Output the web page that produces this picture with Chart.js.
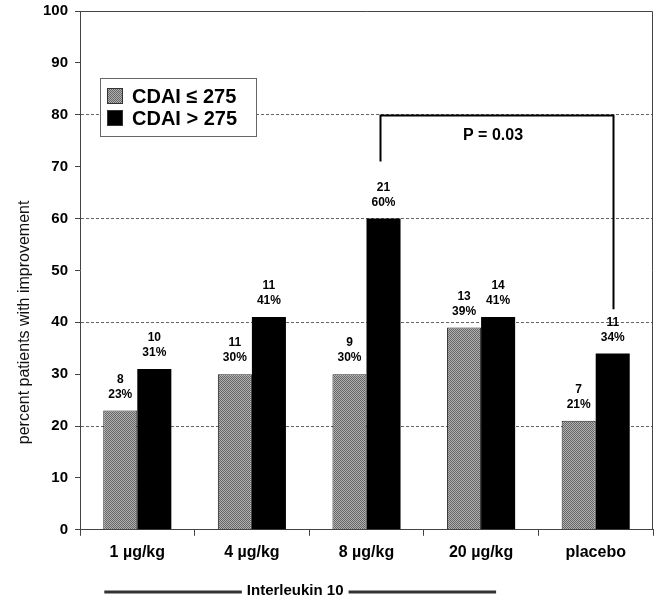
<!DOCTYPE html>
<html>
<head>
<meta charset="utf-8">
<script src="https://cdn.jsdelivr.net/npm/chart.js@4/dist/chart.umd.min.js"></script>
<style>
  html, body { margin: 0; padding: 0; background: #fff; }
  #wrap { width: 660px; height: 600px; }
</style>
</head>
<body>
<div id="wrap"><canvas id="myChart" width="660" height="600"></canvas></div>
<script>
const categories = ['1 µg/kg', '4 µg/kg', '8 µg/kg', '20 µg/kg', 'placebo'];
const lowPct = [23, 30, 30, 39, 21];
const highPct = [31, 41, 60, 41, 34];
const lowN = [8, 11, 9, 13, 7];
const highN = [10, 11, 21, 14, 11];
const seriesNames = ['CDAI \u2264 275', 'CDAI > 275'];
const gridValues = [20, 40, 60, 80];
// bracket between 8 ug/kg (high) and placebo (high)
const bracketFrom = 2;
const bracketTo = 4;
const bracketTop = 80;
const bracketLeftEnd = 71;
const bracketRightEnd = 42.5;
const bracketText = 'P = 0.03';
const groupText = 'Interleukin 10';

const FONT = 'Arial, "Liberation Sans", sans-serif';

function makePattern() {
  const c = document.createElement('canvas');
  c.width = 2; c.height = 2;
  const g = c.getContext('2d');
  g.fillStyle = '#b2b2b2';
  g.fillRect(0, 0, 2, 2);
  g.fillStyle = '#656565';
  g.fillRect(0, 0, 1, 1);
  g.fillRect(1, 1, 1, 1);
  return g.createPattern(c, 'repeat');
}

const overlay = {
  id: 'overlay',
  afterDatasetsDraw(chart) {
    const ctx = chart.ctx;
    const a = chart.chartArea;
    const y = chart.scales.y;
    const x = chart.scales.x;
    ctx.save();

    // frame top/right
    ctx.strokeStyle = '#444';
    ctx.lineWidth = 1;
    ctx.beginPath();
    ctx.moveTo(a.left, a.top + 0.5);
    ctx.lineTo(a.right - 0.5, a.top + 0.5);
    ctx.lineTo(a.right - 0.5, a.bottom);
    ctx.stroke();

    // value labels
    ctx.fillStyle = '#000';
    ctx.font = 'bold 12px ' + FONT;
    ctx.textAlign = 'center';
    ctx.textBaseline = 'middle';
    [[0, lowN, lowPct], [1, highN, highPct]].forEach(([di, ns, ps]) => {
      chart.getDatasetMeta(di).data.forEach((bar, i) => {
        ctx.fillText(String(ns[i]), bar.x, bar.y - 31);
        ctx.fillText(ps[i] + '%', bar.x, bar.y - 16);
      });
    });

    // bracket
    const hb = chart.getDatasetMeta(1).data;
    const x1 = Math.round(hb[bracketFrom].x) - 3.5;
    const x2 = Math.round(hb[bracketTo].x) + 0.5;
    const yt = Math.round(y.getPixelForValue(bracketTop)) + 0.5;
    ctx.strokeStyle = '#000';
    ctx.lineWidth = 2;
    ctx.beginPath();
    ctx.moveTo(x1, y.getPixelForValue(bracketLeftEnd));
    ctx.lineTo(x1, yt);
    ctx.lineTo(x2, yt);
    ctx.lineTo(x2, y.getPixelForValue(bracketRightEnd));
    ctx.stroke();
    ctx.font = 'bold 16px ' + FONT;
    ctx.fillText(bracketText, (x1 + x2) / 2 - 4, yt + 20);

    // legend box
    const lx = a.left + 20, ly = a.top + 67, lw = 156, lh = 58;
    ctx.fillStyle = '#fff';
    ctx.fillRect(lx, ly, lw, lh);
    ctx.strokeStyle = '#666';
    ctx.lineWidth = 1;
    ctx.strokeRect(lx + 0.5, ly + 0.5, lw, lh);
    const fills = [chart.data.datasets[0].backgroundColor, '#000'];
    ctx.font = 'bold 20px ' + FONT;
    ctx.textAlign = 'left';
    seriesNames.forEach((name, i) => {
      const sy = ly + 10 + i * 22;
      ctx.fillStyle = fills[i];
      ctx.fillRect(lx + 7, sy, 16, 16);
      ctx.strokeStyle = '#333';
      ctx.strokeRect(lx + 7.5, sy + 0.5, 15, 15);
      ctx.fillStyle = '#000';
      ctx.fillText(name, lx + 32, sy + 9);
    });

    // y title
    ctx.save();
    ctx.translate(25, (a.top + a.bottom) / 2 + 52);
    ctx.rotate(-Math.PI / 2);
    ctx.textAlign = 'center';
    ctx.font = '16px ' + FONT;
    ctx.fillStyle = '#111';
    ctx.fillText('percent patients with improvement', 0, 0);
    ctx.restore();

    // group label under x axis
    const gx1 = x.getPixelForValue(0) - 33;
    const gx2 = x.getPixelForValue(3) + 15;
    const gy = 591;
    ctx.font = 'bold 15px ' + FONT;
    ctx.textAlign = 'center';
    const tw = ctx.measureText(groupText).width;
    const tc = (gx1 + gx2) / 2 - 5;
    ctx.fillStyle = '#000';
    ctx.fillText(groupText, tc, gy);
    ctx.lineWidth = 3;
    ctx.beginPath();
    ctx.moveTo(gx1, gy + 1);
    ctx.lineTo(tc - tw / 2 - 5, gy + 1);
    ctx.moveTo(tc + tw / 2 + 5, gy + 1);
    ctx.lineTo(gx2, gy + 1);
    ctx.stroke();

    ctx.restore();
  }
};

const ctx = document.getElementById('myChart').getContext('2d');
const data = {
  labels: categories,
  datasets: [
    {
      label: seriesNames[0],
      data: lowPct,
      backgroundColor: makePattern(),
      borderColor: '#222',
      borderWidth: 1,
      categoryPercentage: 0.594,
      barPercentage: 1,
    },
    {
      label: seriesNames[1],
      data: highPct,
      backgroundColor: '#000',
      borderColor: '#000',
      borderWidth: 0,
      categoryPercentage: 0.594,
      barPercentage: 1,
    },
  ],
};

new Chart(ctx, {
  type: 'bar',
  data,
  options: {
    responsive: false,
    animation: false,
    layout: { padding: { left: 0, right: 7, top: 11, bottom: 31 } },
    plugins: {
      legend: { display: false },
      tooltip: { enabled: false },
    },
    scales: {
      x: {
        grid: {
          offset: true,
          drawOnChartArea: false,
          tickLength: 6,
          tickColor: '#444',
        },
        border: { color: '#444', width: 1 },
        ticks: {
          color: '#000',
          font: { family: FONT, size: 16, weight: 'bold' },
          padding: 7,
          maxRotation: 0,
        },
      },
      y: {
        min: 0,
        max: 100,
        afterFit(scale) {
          scale.width = 80;
          scale.paddingTop = 0;
          scale.paddingBottom = 0;
        },
        grid: {
          color: c => gridValues.includes(c.tick.value) ? '#666' : 'rgba(0,0,0,0)',
          tickColor: '#444',
          tickLength: 5,
          tickBorderDash: [],
        },
        border: { color: '#444', width: 1, dash: [3, 2] },
        ticks: {
          stepSize: 10,
          color: '#000',
          padding: 7,
          font: { family: FONT, size: 15, weight: 'bold' },
        },
      },
    },
  },
  plugins: [overlay],
});
</script>
</body>
</html>
